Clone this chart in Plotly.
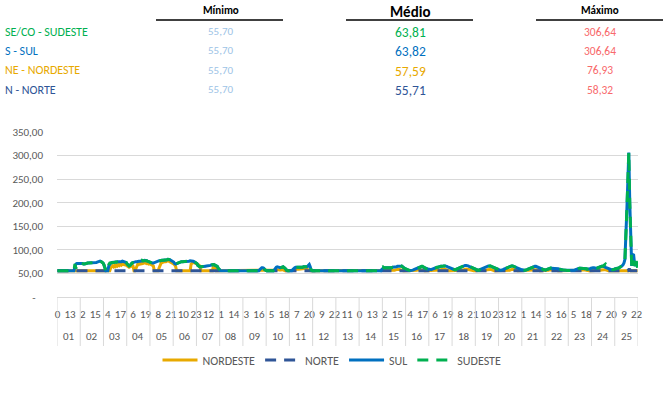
import plotly.graph_objects as go

P = 55.70

DAYS = ["01", "02", "03", "04", "05", "06", "07", "08", "09", "10", "11", "12", "13",
        "14", "15", "16", "17", "18", "19", "20", "21", "22", "23", "24", "25"]
HOURS = [0, 1, 2, 3, 4, 5, 6, 7, 8, 9, 10, 11, 12, 13, 14, 15, 16, 17, 18, 19, 20, 21, 22, 23]

SERIES_NAMES = ["NORDESTE", "NORTE", "SUL", "SUDESTE"]

TABLE_LABELS = ["SE/CO - SUDESTE", "S - SUL", "NE - NORDESTE", "N - NORTE"]
TABLE_MIN = [55.70, 55.70, 55.70, 55.70]
TABLE_MEAN = [63.81, 63.82, 57.59, 55.71]
TABLE_MAX = [306.64, 306.64, 76.93, 58.32]

SUL = [
    [P, P, P, P, P, P, P, P, P, P, P, P, P, P, P, P, P, P, 64, 70, 71, 71, 72, 72],
    [72, 71, 71, 70, 70, 71, 71, 72, 72, 72, 72, 72, 72, 72, 72, 73, 73, 74, 75, 76, 76, 75, 74, 72],
    [68, 61, P, P, P, 66, 71, 72, 73, 73, 73, 74, 74, 74, 75, 75, 74, 74, 75, 76, 75, 75, 74, 73],
    [70, 68, 66, 67, 70, 72, 73, 74, 74, 75, 75, 76, 76, 76, 76, 77, 77, 77, 78, 78, 77, 76, 75, 75],
    [74, 73, 72, 72, 73, 74, 75, 76, 76, 77, 77, 78, 78, 78, 78, 78, 78, 79, 80, 80, 79, 78, 77, 76],
    [74, 71, 70, 71, 72, 73, 74, 74, 75, 75, 75, 76, 76, 76, 76, 76, 76, 77, 77, 77, 76, 75, 74, 73],
    [71, 67, 65, 64, 64, 64, 65, 65, 65, 65, 66, 66, 66, 66, 67, 68, 69, 69, 68, 67, 66, 65, 61, 57],
    [56.5, P, P, P, P, P, P, P, P, P, P, P, P, P, P, P, P, P, P, P, P, P, P, P],
    [P, P, P, P, P, P, P, P, P, P, P, P, P, P, P, P, P, 58, 61, 62, 62, 61, 58, P],
    [P, P, P, P, P, P, P, P, 58, 61, 63, 64, 64, 63, 62, 62, 63, 64, 63, 61, 58, 56.5, P, P],
    [P, P, P, 58, 61, 62, 63, 63, 63, 63, 63, 62, 62, 63, 64, 64, 65, 65, 64, 67, 69, 64, 57, P],
    [P, P, P, P, P, P, P, P, P, P, P, P, P, P, P, P, P, P, P, P, P, P, P, P],
    [P, P, P, P, P, P, P, P, P, P, P, P, P, P, P, P, P, P, P, P, P, P, P, P],
    [P, P, P, P, P, P, P, P, P, P, P, P, P, P, P, P, P, P, P, P, P, P, P, 59],
    [61, 62, 62, 62, 61, 61, 61, 62, 62, 62, 63, 63, 63, 63, 64, 65, 65, 66, 66, 66, 65, 63, 61, 60],
    [59, 58, 57, 57, 56, 56, 56, 57, 58, 59, 60, 61, 62, 63, 63, 64, 64, 64, 63, 62, 61, 60, 59, 59],
    [59, 58, 58, 59, 60, 61, 62, 62, 63, 63, 64, 64, 65, 65, 66, 66, 66, 66, 65, 64, 63, 62, 61, 60],
    [60, 59, 58, 58, 59, 60, 61, 62, 63, 64, 65, 66, 66, 67, 67, 67, 66, 65, 64, 63, 62, 61, 60, 59],
    [58, 58, 57, 57, 58, 59, 60, 61, 62, 63, 64, 65, 65, 66, 66, 66, 65, 64, 63, 62, 61, 60, 59, 58],
    [58, 57, 57, 57, 58, 59, 60, 61, 62, 63, 64, 65, 66, 66, 66, 65, 65, 64, 63, 62, 61, 60, 59, 58],
    [58, 57, 57, 57, 57, 58, 59, 60, 61, 62, 63, 64, 64, 65, 65, 64, 63, 62, 61, 60, 59, 59, 58, 58],
    [57, 58, 59, 60, 60, 61, 61, 61, 61, 61, 61, 61, 60, 60, 59, 59, 58, 58, 57, 57, 57, 57, 56, 56],
    [56, 56, 56, 56, 56, 56, 57, 58, 59, 60, 60, 61, 61, 61, 61, 61, 61, 60, 60, 59, 59, 59, 60, 61],
    [62, 62, 62, 61, 61, 61, 62, 63, 64, 64, 65, 65, 65, 64, 63, 62, 61, 60, 59, 59, 58, 58, 58, 59],
    [60, 60, 61, 61, 62, 63, 64, 66, 68, 72, 80, 120, 185, 245, 306.64, 200, 100, 66, 90, 89, 70, 66, 70, 65],
]

SUDESTE = [
    [P, P, P, P, P, P, P, P, P, P, P, P, P, P, P, P, P, P, 70, 60, 70, 71, 72, 72],
    [72, 71, 71, 70, 70, 71, 71, 72, 72, 72, 72, 72, 72, 72, 72, 73, 73, 74, 75, 76, 76, 75, 74, 72],
    [68, 61, P, P, P, 69, 72, 72, 73, 73, 73, 74, 74, 74, 75, 75, 74, 74, 75, 76, 75, 75, 74, 73],
    [70, 68, 66, 67, 70, 72, 73, 74, 74, 75, 75, 76, 76, 77, 77, 78, 77, 77, 78, 78, 77, 76, 75, 75],
    [74, 73, 72, 72, 73, 74, 75, 76, 76, 77, 77, 78, 78, 78, 78, 78, 78, 79, 80, 80, 79, 78, 77, 76],
    [74, 71, 70, 71, 72, 73, 74, 74, 75, 75, 75, 76, 76, 76, 76, 76, 76, 77, 77, 77, 76, 75, 74, 73],
    [71, 67, 65, 64, 64, 64, 65, 65, 65, 65, 66, 66, 66, 66, 67, 68, 69, 69, 68, 67, 66, 65, 61, 57],
    [56.5, P, P, P, P, P, P, P, P, P, P, P, P, P, P, P, P, P, P, P, P, P, P, P],
    [P, P, P, P, P, P, P, P, P, P, P, P, P, P, P, P, P, 58, 61, 62, 62, 61, 58, P],
    [P, P, P, P, P, P, P, P, 58, 61, 63, 64, 64, 63, 62, 62, 63, 64, 63, 61, 58, 56.5, P, P],
    [P, P, P, 58, 61, 62, 63, 63, 63, 63, 63, 62, 62, 63, 64, 64, 65, 65, 64, 68, 70, 64, 57, P],
    [P, P, P, P, P, P, P, P, P, P, P, P, P, P, P, P, P, P, P, P, P, P, P, P],
    [P, P, P, P, P, P, P, P, P, P, P, P, P, P, P, P, P, P, P, P, P, P, P, P],
    [P, P, P, P, P, P, P, P, P, P, P, P, P, P, P, P, P, P, P, P, P, P, P, 63],
    [64, 62, 62, 62, 61, 61, 61, 62, 62, 62, 63, 63, 63, 63, 64, 65, 66, 67, 67, 66, 65, 63, 61, 60],
    [59, 58, 57, 57, 56, 56, 56, 57, 58, 59, 60, 61, 61, 62, 62, 64, 65, 65, 63, 62, 61, 60, 59, 59],
    [59, 58, 58, 59, 60, 61, 62, 62, 63, 63, 64, 64, 65, 65, 66, 66, 66, 66, 65, 64, 63, 62, 61, 60],
    [60, 59, 58, 58, 59, 60, 61, 62, 63, 64, 65, 66, 67, 68, 68, 67, 66, 65, 64, 63, 62, 61, 60, 59],
    [58, 58, 57, 57, 58, 59, 60, 61, 62, 63, 64, 64, 64, 65, 65, 66, 65, 64, 63, 62, 61, 60, 59, 58],
    [58, 57, 57, 57, 58, 59, 60, 61, 62, 63, 64, 65, 66, 66, 66, 65, 65, 64, 63, 62, 61, 60, 59, 58],
    [58, 57, 57, 57, 57, 58, 59, 60, 61, 62, 63, 64, 64, 65, 65, 64, 63, 62, 61, 60, 59, 59, 58, 58],
    [57, 58, 59, 60, 61, 62, 62, 62, 62, 62, 61, 61, 60, 60, 59, 59, 58, 58, 57, 57, 57, 57, 56, 56],
    [56, 56, 56, 56, 56, 56, 57, 58, 59, 60, 60, 61, 61, 61, 61, 61, 61, 60, 60, 59, 59, 59, 60, 61],
    [62, 62, 62, 61, 61, 61, 62, 63, 64, 64, 65, 65, 67, 69, 70, 68, 64, 61, 59, 59, 58, 58, 58, 59],
    [60, 60, 61, 61, 62, 63, 64, 66, 68, 72, 80, 120, 185, 245, 306.64, 200, 100, 66, 80, 70, 66, 85, 70, 62],
]

NORDESTE = [
    [P, P, P, P, P, P, P, P, P, P, P, P, P, P, P, P, P, P, P, P, P, P, P, P],
    [P, P, P, P, P, P, P, P, P, P, P, P, P, P, P, P, P, P, P, P, P, P, P, P],
    [P, P, P, P, P, P, P, 62, 65, 66, 64, 67, 65, 68, 66, 69, 67, 70, 68, 71, 69, 70, 68, 69],
    [66, 64, 63, 64, 66, 68, 66, P, P, 62, 68, 70, 69, 71, 70, 72, 71, 72, 73, 72, 71, 72, 70, 71],
    [70, 69, 68, 66, P, P, P, P, P, 62, 70, 72, 73, 74, 74, 75, 75, 76, 76.93, 76, 75, 74, 73, 72],
    [70, 68, 65, P, P, P, P, P, P, P, P, P, P, P, P, P, P, P, 70, 72, 73, 73, 72, 72],
    [71, 70, 68, 66, P, P, P, P, P, P, P, P, P, P, P, P, P, 66, 68, 66, P, P, P, P],
    [P, P, P, P, P, P, P, P, P, P, P, P, P, P, P, P, P, P, P, P, P, P, P, P],
    [P, P, P, P, P, P, P, P, P, P, P, P, P, P, P, P, P, P, P, P, P, P, P, P],
    [P, P, P, P, P, P, P, P, P, 57, 58, 58.5, 58, 57.5, 57, 57.5, 58, 57, P, P, P, P, P, P],
    [P, P, P, P, 57, 58, 59, 59.5, 59.5, 59, 59, 59, 59.5, 60, 60, 60.5, 61, 60, 59, 57, P, P, P, P],
    [P, P, P, P, P, P, P, P, P, P, P, P, P, P, P, P, P, P, P, P, P, P, P, P],
    [P, P, P, P, P, P, P, P, P, P, P, P, P, P, P, P, P, P, P, P, P, P, P, P],
    [P, P, P, P, P, P, P, P, P, P, P, P, P, P, P, P, P, P, P, P, P, P, P, P],
    [P, P, P, P, P, P, P, P, P, P, P, P, 56.5, 57.5, 58.5, 59, 59, 58.5, 57.5, 56.5, P, P, P, P],
    [P, P, P, P, P, P, P, P, P, P, P, 56.5, 57.5, 58, 58.5, 58, 57.5, 56.5, P, P, P, P, P, P],
    [P, P, P, P, P, P, P, P, P, P, P, 57, 58, 59, 59.5, 59.5, 59, 58, 57, P, P, P, P, P],
    [P, P, P, P, P, P, P, P, P, P, 56.5, 57.5, 58.5, 59, 59.5, 59, 58.5, 57.5, 56.5, P, P, P, P, P],
    [P, P, P, P, P, P, P, P, P, P, P, 57, 58, 58.5, 59, 58.5, 58, 57, P, P, P, P, P, P],
    [P, P, P, P, P, P, P, P, P, P, P, 56.5, 57.5, 58.5, 59, 58.5, 57.5, 56.5, P, P, P, P, P, P],
    [P, P, P, P, P, P, P, P, P, P, P, 57, 58, 58.5, 58.5, 58, 57, P, P, P, P, P, P, P],
    [P, P, P, 56.5, 57.5, 58, 58, 57.5, 57, 56.5, P, P, P, P, P, P, P, P, P, P, P, P, P, P],
    [P, P, P, P, P, P, P, P, P, P, P, P, P, 56.5, 57.5, 58, 58, 57.5, 56.5, P, P, P, P, P],
    [P, P, P, P, P, P, P, P, P, 56.5, 57.5, 58, 58.5, 58, 57.5, 56.5, P, P, P, P, P, P, P, P],
    [P, P, P, P, P, P, P, P, P, P, P, P, P, P, P, P, P, P, P, P, P, P, P, P],
]

NORTE = [
    [P, P, P, P, P, P, P, P, P, P, P, P, P, P, P, P, P, P, P, P, P, P, P, P],
    [P, P, P, P, P, P, P, P, P, P, P, P, P, P, P, P, P, P, P, P, P, P, P, P],
    [P, P, P, P, P, P, P, P, P, P, P, P, P, P, P, P, P, P, P, P, P, P, P, P],
    [P, P, P, P, P, P, P, P, P, P, P, P, P, P, P, P, P, P, P, P, P, P, P, P],
    [P, P, P, P, P, P, P, P, P, P, P, P, P, P, P, P, P, P, P, P, P, P, P, P],
    [P, P, P, P, P, P, P, P, P, P, P, P, P, P, P, P, P, P, P, P, P, P, P, P],
    [P, P, P, P, P, P, P, P, P, P, P, P, P, P, P, P, P, P, P, P, P, P, P, P],
    [P, P, P, P, P, P, P, P, P, P, P, P, P, P, P, P, P, P, P, P, P, P, P, P],
    [P, P, P, P, P, P, P, P, P, P, P, P, P, P, P, P, P, P, P, P, P, P, P, P],
    [P, P, P, P, P, P, P, P, P, P, P, P, P, P, P, P, P, P, P, P, P, P, P, P],
    [P, P, P, P, P, P, P, P, P, P, P, P, P, P, P, P, P, P, P, P, P, P, P, P],
    [P, P, P, P, P, P, P, P, P, P, P, P, P, P, P, P, P, P, P, P, P, P, P, P],
    [P, P, P, P, P, P, P, P, P, P, P, P, P, P, P, P, P, P, P, P, P, P, P, P],
    [P, P, P, P, P, P, P, P, P, P, P, P, P, P, P, P, P, P, P, P, P, P, P, P],
    [P, P, P, P, P, P, P, P, P, P, P, P, P, P, P, P, P, P, P, P, P, P, P, P],
    [P, P, P, P, P, P, P, P, P, P, P, P, P, P, P, P, P, P, P, P, P, P, P, P],
    [P, P, P, P, P, P, P, P, P, P, P, P, P, P, P, P, P, P, P, P, P, P, P, P],
    [P, P, P, P, P, P, P, P, P, P, P, P, P, P, P, P, P, P, P, P, P, P, P, P],
    [P, P, P, P, P, P, P, P, P, P, P, P, P, P, P, P, P, P, P, P, P, P, P, P],
    [P, P, P, P, P, P, P, P, P, P, P, P, P, P, P, P, P, P, P, P, P, P, P, P],
    [P, P, P, P, P, P, P, P, P, P, P, P, P, P, P, P, P, P, P, P, P, P, P, P],
    [P, P, P, P, P, P, P, P, P, P, P, P, P, P, P, P, P, P, P, P, P, P, P, P],
    [P, P, P, P, P, P, P, P, P, P, P, P, P, P, P, P, P, P, P, P, P, P, P, P],
    [P, P, P, P, P, P, P, P, P, P, P, P, P, P, P, P, P, P, P, P, P, P, P, P],
    [P, P, P, P, P, P, P, P, P, P, P, P, P, P, 58.32, 58.32, P, P, P, P, P, P, P, P],
]

Y_TICKS = [0, 50, 100, 150, 200, 250, 300, 350]

# ---------------------------------------------------------------- styling
FONT = "Calibri, Carlito, Lato, sans-serif"
GREY = "#595959"
GRID = "#D9D9D9"
COLORS = {"NORDESTE": "#E8A900", "NORTE": "#2F5597", "SUL": "#0070C0", "SUDESTE": "#00B050"}
DASHES = {"NORDESTE": "solid", "NORTE": "11px,8px", "SUL": "solid", "SUDESTE": "11px,8px"}
ROW_COLORS = ["#00B050", "#0070C0", "#E8A900", "#2F5597"]
MIN_COLOR = "#9DC3E6"
MAX_COLOR = "#F8696B"

W, H = 664, 397
L, R, T, B = 57, 638, 132, 297

for rows in (SUL, SUDESTE, NORDESTE, NORTE):
    assert len(rows) == len(DAYS)
    for r in rows:
        assert len(r) == len(HOURS), len(r)


def flat(rows):
    return [v for r in rows for v in r]


def fmt(v):
    return f"{v:.2f}".replace(".", ",")


def pxx(x):
    return (x - L) / (R - L)


def pxy(y):
    return (B - y) / (B - T)


data = {"NORDESTE": NORDESTE, "NORTE": NORTE, "SUL": SUL, "SUDESTE": SUDESTE}
hour_of = [h for d in DAYS for h in HOURS]
x = list(range(len(hour_of)))

fig = go.Figure()
for name in SERIES_NAMES:
    fig.add_trace(go.Scatter(
        x=x, y=flat(data[name]), mode="lines", name=name,
        line=dict(color=COLORS[name], width=3, dash=DASHES[name]),
    ))

tickvals = x[::13]
ticktext = [str(hour_of[i]) for i in tickvals]

fig.update_xaxes(
    range=[-0.5, len(x) - 0.5], tickmode="array", tickvals=tickvals, ticktext=ticktext,
    tickangle=0,
    showgrid=False, zeroline=False, showline=True, linecolor=GRID, linewidth=1,
    ticks="", tickfont=dict(size=11, color=GREY), ticklabelstandoff=7,
)
fig.update_yaxes(
    range=[0, 350], tickmode="array", tickvals=Y_TICKS,
    ticktext=[("-\u00a0\u00a0\u00a0" if v == 0 else fmt(v)) for v in Y_TICKS],
    showgrid=True, gridcolor=GRID, gridwidth=1, zeroline=False, showline=False,
    ticks="", tickfont=dict(size=11, color=GREY), ticklabelstandoff=13,
)

shapes = []
annotations = []

# day separators & day labels
for d in range(len(DAYS) + 1):
    xv = d * len(HOURS) - 0.5
    shapes.append(dict(type="line", xref="x", yref="paper", x0=xv, x1=xv,
                       y0=0, y1=pxy(346), line=dict(color=GRID, width=1)))
for d, lab in enumerate(DAYS):
    annotations.append(dict(xref="x", yref="paper", x=d * len(HOURS) + (len(HOURS) - 1) / 2,
                            y=pxy(336), text=lab, showarrow=False, xanchor="center",
                            yanchor="middle", font=dict(size=11, color=GREY)))

# header table
headers = [("Mínimo", 220.5, 11, 11, 156, 283),
           ("Médio", 410, 12, 15, 346, 473),
           ("Máximo", 599.5, 11, 11, 536, 663)]
for text, cx, cy, size, u0, u1 in headers:
    annotations.append(dict(xref="paper", yref="paper", x=pxx(cx), y=pxy(cy),
                            text=f"<b>{text}</b>", showarrow=False, xanchor="center",
                            yanchor="middle", font=dict(size=size, color="#000000")))
    shapes.append(dict(type="line", xref="paper", yref="paper", x0=pxx(u0), x1=pxx(u1),
                       y0=pxy(20), y1=pxy(20), line=dict(color="#000000", width=1.5)))

row_y = [31.5, 51, 70.5, 90]
for i, lab in enumerate(TABLE_LABELS):
    yy = pxy(row_y[i])
    annotations.append(dict(xref="paper", yref="paper", x=pxx(3), y=yy, text=lab,
                            showarrow=False, xanchor="left", yanchor="middle",
                            font=dict(size=12, color=ROW_COLORS[i])))
    annotations.append(dict(xref="paper", yref="paper", x=pxx(220), y=yy, text=fmt(TABLE_MIN[i]),
                            showarrow=False, xanchor="center", yanchor="middle",
                            font=dict(size=11, color=MIN_COLOR)))
    annotations.append(dict(xref="paper", yref="paper", x=pxx(410), y=pxy(row_y[i] + 0.5),
                            text=fmt(TABLE_MEAN[i]), showarrow=False, xanchor="center",
                            yanchor="middle", font=dict(size=13.5, color=ROW_COLORS[i])))
    annotations.append(dict(xref="paper", yref="paper", x=pxx(599.5), y=yy, text=fmt(TABLE_MAX[i]),
                            showarrow=False, xanchor="center", yanchor="middle",
                            font=dict(size=11.5, color=MAX_COLOR)))

fig.update_layout(
    width=W, height=H,
    margin=dict(l=L, r=W - R, t=T, b=H - B, autoexpand=False),
    paper_bgcolor="white", plot_bgcolor="white",
    font=dict(family=FONT, size=11, color=GREY),
    separators=",.",
    showlegend=True,
    hovermode=False,
    legend=dict(orientation="h", xref="container", yref="container",
                x=0.5, xanchor="center", y=1 - 360 / H, yanchor="middle",
                font=dict(size=12, color=GREY), itemwidth=35,
                bgcolor="rgba(0,0,0,0)"),
    shapes=shapes, annotations=annotations,
)

fig.write_html(
    "out.html",
    config={"displayModeBar": False},
    post_script="document.body.style.margin='0';document.body.style.padding='0';",
)
